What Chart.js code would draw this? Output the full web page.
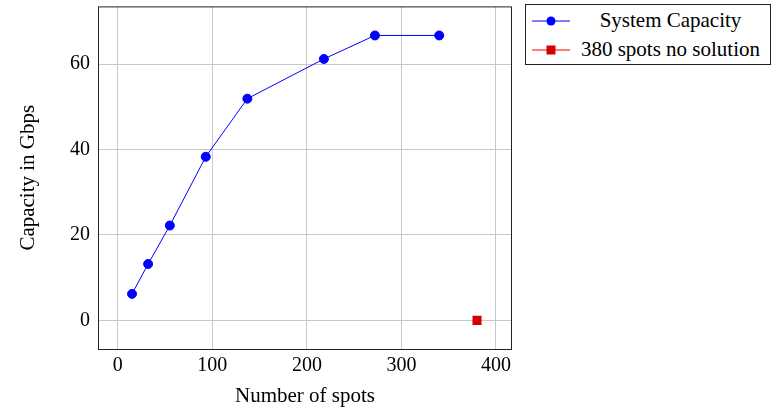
<!DOCTYPE html>
<html>
<head>
<meta charset="utf-8">
<script src="https://cdn.jsdelivr.net/npm/chart.js@4"></script>
<style>
  html, body { margin: 0; padding: 0; background: #fff; }
  #wrap { position: relative; width: 776px; height: 413px; }
  #legend {
    position: absolute; left: 525px; top: 4px; width: 246px; height: 61px;
    border: 1px solid #222; background: #fff; box-sizing: border-box;
    font-family: "Liberation Serif", "DejaVu Serif", serif; font-size: 21px; color: #000;
    padding: 1px 0;
  }
  #legend .row { display: flex; align-items: center; height: 29px; }
  #legend .row span { flex: 1; text-align: center; white-space: nowrap; }
  #legend svg { margin-left: 5px; flex: none; }
</style>
</head>
<body>
<div id="wrap">
  <canvas id="myChart" width="776" height="413"></canvas>
  <div id="legend">
    <div class="row">
      <svg width="40" height="14"><line x1="1" y1="7" x2="39" y2="7" stroke="#0000ff" stroke-width="1"/><circle cx="20" cy="7" r="4.5" fill="#0000ff"/></svg>
      <span>System Capacity</span>
    </div>
    <div class="row">
      <svg width="40" height="14"><line x1="1" y1="7" x2="39" y2="7" stroke="#ff0000" stroke-width="1.2"/><rect x="15.5" y="2.5" width="9" height="9" fill="#d40000"/></svg>
      <span>380 spots no solution</span>
    </div>
  </div>
</div>
<script>
// Werte
const spots = [15, 32, 55, 93, 137, 218, 272, 340];
const capacity = [6.2, 13.2, 22.2, 38.3, 51.9, 61.2, 66.7, 66.7];
const failSpots = [380];
const failCapacity = [0];
const xTicks = [0, 100, 200, 300, 400];
const yTicks = [0, 20, 40, 60];

const serif = "'Liberation Serif', 'DejaVu Serif', serif";

// Rahmen um die Zeichenfläche
const boxPlugin = {
    id: 'box',
    afterDraw(chart) {
        const a = chart.chartArea, ctx = chart.ctx;
        ctx.save();
        ctx.strokeStyle = '#222';
        ctx.lineWidth = 1;
        ctx.strokeRect(a.left + 0.5, a.top + 0.5, a.right - a.left - 1, a.bottom - a.top);
        ctx.restore();
    }
};

new Chart("myChart", {
    type: 'line',
    data: {
        datasets: [
            {
                label: 'System Capacity',
                data: spots.map((x, i) => ({ x: x, y: capacity[i] })),
                borderColor: '#0000ff', backgroundColor: '#0000ff',
                borderWidth: 1, pointRadius: 4.5, pointStyle: 'circle', tension: 0
            },
            {
                label: '380 spots no solution',
                data: failSpots.map((x, i) => ({ x: x, y: failCapacity[i] })),
                borderColor: '#d40000', backgroundColor: '#d40000',
                borderWidth: 0, pointRadius: 6.4, pointStyle: 'rect', showLine: false
            }
        ]
    },
    options: {
        responsive: false,
        animation: false,
        layout: { padding: { top: 4, right: 264, left: 0, bottom: 0 } },
        scales: {
            x: {
                type: 'linear', min: -21, max: 417,
                afterBuildTicks: s => { s.ticks = xTicks.map(v => ({ value: v })); },
                afterFit: s => { s.height = 64; s.paddingLeft = 0; s.paddingRight = 0; },
                grid: { color: '#c8c8c8', drawTicks: false },
                border: { display: false },
                ticks: { color: '#000', padding: 5, font: { family: serif, size: 20 } },
                title: { display: true, text: 'Number of spots', color: '#000', padding: { top: 4 }, font: { family: serif, size: 21 } }
            },
            y: {
                type: 'linear', min: -6.7, max: 73.5,
                afterBuildTicks: s => { s.ticks = yTicks.map(v => ({ value: v })); },
                afterFit: s => { s.width = 98; s.paddingTop = 0; s.paddingBottom = 0; },
                grid: { color: '#c8c8c8', drawTicks: false },
                border: { display: false },
                ticks: { color: '#000', padding: 8, font: { family: serif, size: 20 } },
                title: { display: true, text: 'Capacity in Gbps', color: '#000', padding: { top: 16, bottom: 4 }, font: { family: serif, size: 21 } }
            }
        },
        plugins: {
            legend: { display: false },
            tooltip: { enabled: false }
        }
    },
    plugins: [boxPlugin]
});
</script>
</body>
</html>
